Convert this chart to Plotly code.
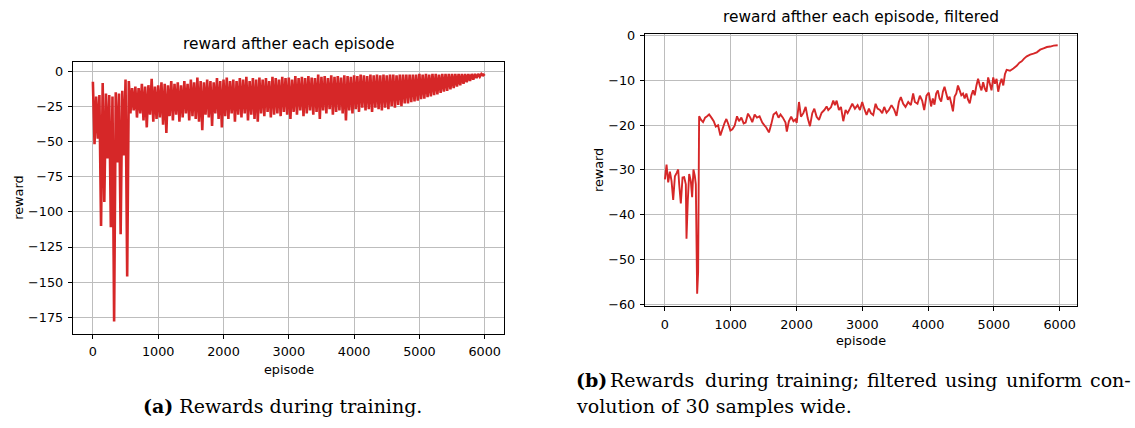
import plotly.graph_objects as go

# ---------------------------------------------------------------------------
# Data
# ---------------------------------------------------------------------------
# Per-episode reward: the series swings between local peaks (episodes 0, 50, ...)
# and local troughs (episodes 25, 75, ...).
raw_peaks = [
    -7.5, -18, -17, -8.5, -16, -17, -18, -15, -16, -14,
    -6, -7, -12, -11, -12, -9, -11, -10, -5.5, -11,
    -10, -8, -9, -10, -7, -9, -8, -10, -7, -9,
    -6, -8, -4.5, -7, -8, -6, -7, -8, -5, -7,
    -6, -4.5, -7, -6, -7, -5, -6, -4, -7, -5,
    -6, -4.5, -6, -5, -7, -4, -5, -6, -4, -5,
    -4.5, -6, -3.5, -5, -4, -5, -3.5, -4.5, -5, -2.5,
    -4, -3.5, -5, -3, -4, -3.5, -4.5, -3, -3.5, -4,
    -3, -3.5, -2.5, -3, -3.5, -2.5, -3, -2.5, -3, -2.5,
    -3, -2.5, -2.5, -3, -2.5, -2.5, -2.5, -2.5, -2.5, -2.5,
    -2, -2.5, -2, -2.5, -2, -2, -2.5, -2, -2, -2,
    -2, -2, -2, -2, -2, -2, -2, -2, -2, -2,
]
raw_troughs = [
    -52, -48, -110, -93, -62, -111, -178, -65, -116, -60,
    -146, -30, -28, -33, -30, -35, -40, -31, -36, -34,
    -33, -38, -44, -32, -35, -31, -36, -33, -30, -35,
    -32, -34, -36, -42, -31, -33, -39, -30, -34, -40,
    -32, -34, -30, -36, -31, -33, -30, -35, -31, -34,
    -36, -30, -32, -29, -33, -31, -30, -32, -29, -31,
    -34, -29, -31, -28, -32, -30, -28, -31, -29, -34,
    -28, -30, -27, -31, -29, -28, -30, -35, -28, -30,
    -27, -29, -26, -28, -27, -29, -26, -27, -28, -26,
    -27, -25, -26, -24, -25, -23, -23, -22, -21.5, -21,
    -20, -19.5, -18.5, -18, -17, -16.5, -15.5, -14.5, -14, -13,
    -12, -11, -10, -9, -8, -7, -6, -5, -4, -3,
]
raw_last_episode = 6000
raw_last_reward = -2.0
sample_step = 50

# Reward after a 30-sample uniform convolution.
filt_episode = [
    0, 25, 50, 76, 101, 126, 152, 177, 202, 217, 242, 268, 293, 318, 328, 348,
    369, 394, 414, 434, 455, 470, 490, 505, 520, 550, 580, 611, 641, 672, 707,
    742, 773, 808, 843, 874, 909, 934, 960, 995, 1025, 1060, 1096, 1126, 1162,
    1197, 1227, 1263, 1298, 1328, 1364, 1399, 1439, 1480, 1515, 1540, 1581,
    1616, 1651, 1692, 1727, 1757, 1793, 1833, 1853, 1884, 1919, 1954, 1985,
    2003, 2038, 2068, 2104, 2139, 2170, 2205, 2240, 2271, 2306, 2342, 2382,
    2423, 2458, 2483, 2524, 2559, 2584, 2610, 2645, 2676, 2711, 2746, 2777,
    2812, 2848, 2888, 2929, 2964, 2999, 3030, 3065, 3101, 3131, 3166, 3202,
    3232, 3268, 3303, 3333, 3369, 3404, 3444, 3485, 3520, 3556, 3586, 3622,
    3657, 3698, 3738, 3773, 3799, 3839, 3875, 3910, 3941, 3976, 4011, 4046,
    4072, 4097, 4123, 4148, 4174, 4199, 4225, 4250, 4276, 4301, 4327, 4352,
    4378, 4403, 4429, 4454, 4480, 4505, 4531, 4556, 4582, 4607, 4633, 4658,
    4684, 4709, 4735, 4760, 4786, 4811, 4837, 4862, 4888, 4913, 4939, 4964,
    4990, 5015, 5041, 5066, 5092, 5117, 5143, 5168, 5194, 5245, 5296, 5347,
    5388, 5423, 5459, 5500, 5551, 5602, 5653, 5704, 5755, 5806, 5857, 5908,
    5970,
]
filt_reward = [
    -32.1, -28.8, -32.8, -30.4, -32.5, -36.7, -31.4, -30.7, -29.9, -33.2, -37.5,
    -31.7, -31.6, -33.2, -45.4, -36.8, -30.9, -32.5, -36.1, -29.9, -31.4, -33.2,
    -57.7, -52.8, -18.0, -18.8, -19.3, -18.3, -18.0, -17.6, -18.3, -19.1, -20.3,
    -20.0, -22.3, -20.9, -19.4, -18.6, -19.6, -21.2, -20.9, -20.1, -18.0, -19.1,
    -18.3, -19.6, -19.4, -17.4, -18.3, -19.3, -17.6, -18.3, -18.0, -19.4, -20.1,
    -20.5, -21.6, -19.8, -17.6, -17.1, -18.3, -17.6, -18.3, -19.4, -21.4, -19.1,
    -18.1, -19.1, -18.7, -19.5, -14.8, -18.1, -17.3, -15.9, -18.4, -20.2, -17.3,
    -16.3, -18.1, -18.8, -17.2, -16.6, -15.8, -16.6, -16.0, -14.5, -15.5, -14.5,
    -16.6, -15.9, -19.1, -16.6, -17.3, -16.3, -15.2, -16.3, -15.5, -16.6, -14.8,
    -16.3, -17.7, -16.3, -17.3, -17.7, -15.2, -16.3, -16.6, -17.3, -15.9, -17.2,
    -16.6, -15.5, -16.5, -17.9, -14.8, -13.7, -15.2, -15.9, -14.8, -15.5, -12.9,
    -14.8, -15.2, -13.4, -14.5, -16.6, -13.4, -12.7, -15.8, -14.0, -15.4, -12.9,
    -12.2, -14.0, -14.7, -12.5, -11.4, -12.9, -14.3, -13.6, -15.1, -16.9, -13.6,
    -12.9, -11.1, -12.2, -13.3, -12.9, -14.0, -12.9, -14.3, -15.1, -13.3, -12.2,
    -13.3, -11.1, -9.6, -11.1, -12.2, -10.4, -11.8, -12.5, -9.3, -10.7, -12.2,
    -9.3, -10.7, -9.6, -12.5, -10.7, -9.6, -11.1, -8.6, -7.6, -7.8, -7.3, -6.7,
    -6.0, -5.7, -5.1, -4.6, -4.2, -4.0, -3.7, -3.1, -2.8, -2.5, -2.4, -2.2,
    -2.1,
]

x_ticks = [0, 1000, 2000, 3000, 4000, 5000, 6000]
raw_y_ticks = [0, -25, -50, -75, -100, -125, -150, -175]
filt_y_ticks = [0, -10, -20, -30, -40, -50, -60]

# Interleave peaks and troughs into one episode-ordered series.
raw_episode, raw_reward = [], []
for i, (hi, lo) in enumerate(zip(raw_peaks, raw_troughs)):
    raw_episode += [i * sample_step, i * sample_step + sample_step // 2]
    raw_reward += [hi, lo]
raw_episode.append(raw_last_episode)
raw_reward.append(raw_last_reward)

# ---------------------------------------------------------------------------
# Figure
# ---------------------------------------------------------------------------
W, H = 1135, 428
RED = "#d62728"
SANS = "DejaVu Sans"
SERIF = "DejaVu Serif"


def px(x):
    return x / W


def py(y):
    return 1 - y / H


fig = go.Figure()
fig.add_trace(go.Scatter(x=raw_episode, y=raw_reward, mode="lines",
                         line=dict(color=RED, width=2.6, simplify=False),
                         xaxis="x", yaxis="y",
                         showlegend=False, hoverinfo="skip"))
fig.add_trace(go.Scatter(x=filt_episode, y=filt_reward, mode="lines",
                         line=dict(color=RED, width=1.9, simplify=False),
                         xaxis="x2", yaxis="y2",
                         showlegend=False, hoverinfo="skip"))

axis_style = dict(
    showline=True, mirror=True, linecolor="black", linewidth=1,
    ticks="outside", ticklen=4.5, tickwidth=1, tickcolor="black",
    showgrid=True, gridcolor="#bdbdbd", gridwidth=1, zeroline=False,
    tickfont=dict(family=SANS, size=12.8, color="black"),
    ticklabelstandoff=2, fixedrange=True,
)

fig.update_layout(
    width=W, height=H, margin=dict(l=0, r=0, t=0, b=0),
    paper_bgcolor="white", plot_bgcolor="white", showlegend=False,
    xaxis=dict(axis_style, domain=[px(73.3), px(504.3)], range=[-300, 6300],
               tickvals=x_ticks, anchor="y"),
    yaxis=dict(axis_style, domain=[py(337), py(57.3)], range=[-186.5, 6.7],
               tickvals=raw_y_ticks, anchor="x"),
    xaxis2=dict(axis_style, domain=[px(645.3), px(1077.3)], range=[-298, 6268],
                tickvals=x_ticks, anchor="y2"),
    yaxis2=dict(axis_style, domain=[py(308.3), py(28.7)], range=[-60.35, 0.43],
                tickvals=filt_y_ticks, anchor="x2"),
)


def label(text, x, y, size, family=SANS, angle=0, xanchor="center"):
    fig.add_annotation(text=text, x=px(x), y=py(y), xref="paper", yref="paper",
                       xanchor=xanchor, yanchor="middle", showarrow=False,
                       textangle=angle, borderpad=0,
                       font=dict(family=family, size=size, color="black"))


# Titles and axis labels
label("reward afther each episode", 288.8, 39.5, 15.4)
label("reward afther each episode, filtered", 861.3, 11, 15.4)
label("episode", 288.8, 374, 12.8)
label("episode", 861.3, 344.5, 12.8)
label("reward", 18.3, 197, 12.8, angle=-90)
label("reward", 598.3, 168.5, 12.8, angle=-90)

# Sub-figure captions; the first line of (b) is justified, so each of its
# words is set at its own left edge.
label("<b>(a)</b> Rewards during training.", 282, 412, 19, family=SERIF)
caption_b_words = ["<b>(b)</b>", "Rewards", "during", "training;", "filtered",
                   "using", "uniform", "con-"]
caption_b_word_left = [575.3, 608.7, 704, 775.3, 865.7, 943.8, 1004.7, 1088.7]
for word, left in zip(caption_b_words, caption_b_word_left):
    label(word, left, 385, 19, family=SERIF, xanchor="left")
label("volution of 30 samples wide.", 575.3, 412, 19, family=SERIF,
      xanchor="left")

fig.write_html("out.html")
